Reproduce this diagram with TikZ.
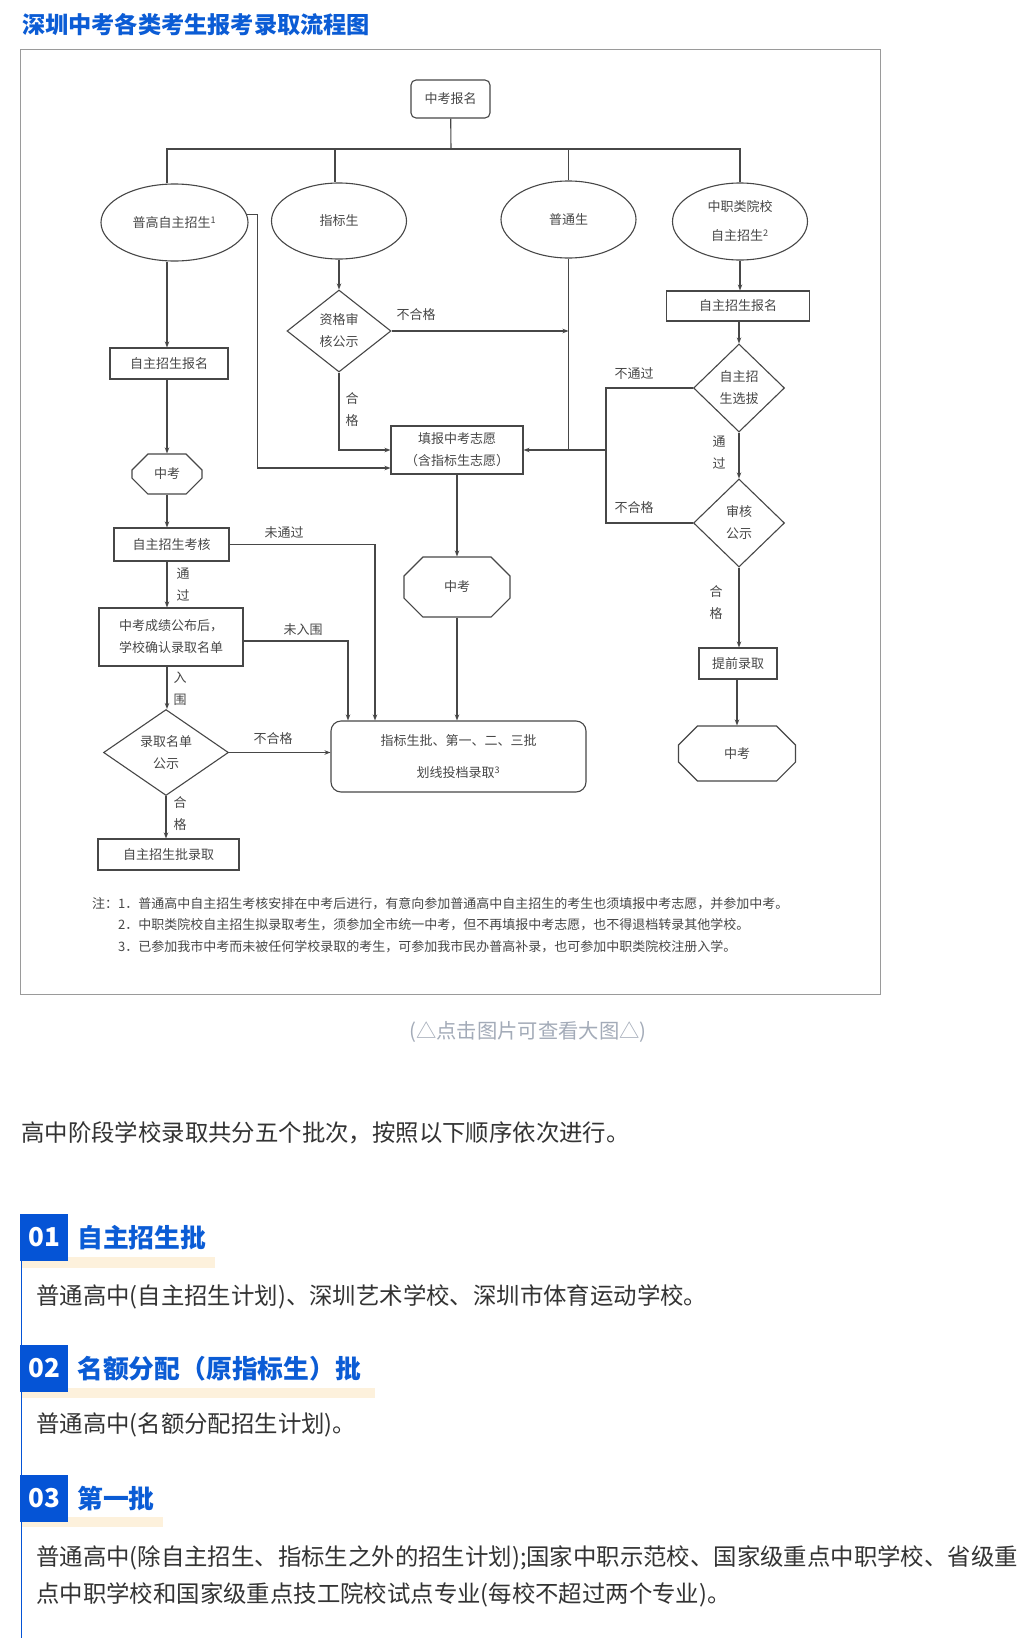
\documentclass[tikz,border=0pt]{standalone}
\usepackage{fontspec}
\setmainfont{Noto Sans CJK SC}
\usetikzlibrary{arrows.meta,positioning,shapes.geometric,shapes.misc}
\definecolor{titleblue}{HTML}{0B5CD5}
\definecolor{boxblue}{HTML}{0554D6}
\definecolor{cream}{HTML}{FDF1DC}
\definecolor{ink}{HTML}{474747}
\definecolor{bodytext}{HTML}{333333}
\definecolor{hint}{HTML}{A3ABB8}
\definecolor{framegray}{HTML}{9A9A9A}

\begin{document}
\begin{tikzpicture}[
  x=1pt, y=-1pt,
  every node/.style={font=\fontsize{13}{22}\selectfont, text=ink, inner sep=0pt, align=center},
  line/.style={draw=ink, line width=1.1pt},
  arr/.style={line, -{Stealth[length=6pt,width=4.5pt]}},
  box/.style={rectangle, draw=ink, line width=1.1pt},
  oval/.style={ellipse, draw=ink, line width=1.1pt},
  check/.style={diamond, draw=ink, line width=1.1pt},
  exam/.style={chamfered rectangle, draw=ink, line width=1.1pt},
  note/.style={anchor=west, font=\fontsize{13}{15}\selectfont},
  body/.style={anchor=west, text=bodytext, font=\fontsize{23.4}{26}\selectfont},
  num/.style={rectangle, fill=boxblue, minimum width=48pt, minimum height=47pt, text=white, font=\fontsize{26}{28}\selectfont\bfseries},
  head/.style={anchor=west, text=titleblue, font=\fontsize{25.8}{28}\selectfont\bfseries}
]
\fill[white] (0,0) rectangle (1035,1638);
\useasboundingbox (0,0) rectangle (1035,1638);

\node[anchor=west, text=titleblue, font=\fontsize{23.2}{26}\selectfont\bfseries] (title) at (22,25) {深圳中考各类考生报考录取流程图};
\draw[draw=framegray, line width=1pt] (20.5,49.5) rectangle (880,994);

\node[box, rounded corners=5pt, minimum width=79pt, minimum height=38pt] (signup) at (450.5,99) {中考报名};
\node[oval, minimum width=147pt, minimum height=77pt] (gaozhao) at (174.5,222.5) {普高自主招生\textsuperscript{1}};
\node[oval, minimum width=135pt, minimum height=76pt] (zhibiao) at (339,221) {指标生};
\node[oval, minimum width=135pt, minimum height=77pt] (putong) at (568.5,219.5) {普通生};
\node[oval, minimum width=135pt, minimum height=77pt] (zhongzhi) at (740,221.5) {中职类院校\\[7pt]自主招生\textsuperscript{2}};

\node[box, minimum width=143pt, minimum height=30pt] (zhaoregR) at (738,306) {自主招生报名};
\node[check, minimum width=91pt, minimum height=88pt] (xuanba) at (739,388) {自主招\\生选拔};
\node[check, minimum width=91pt, minimum height=88pt] (shenhe) at (739,523) {审核\\公示};
\node[box, minimum width=78pt, minimum height=31pt] (tiqian) at (738,663.5) {提前录取};
\node[exam, minimum width=117pt, minimum height=55pt, chamfered rectangle xsep=14pt, chamfered rectangle ysep=15pt] (zhongkaoR) at (737,753.5) {中考};

\node[check, minimum width=104pt, minimum height=82pt] (zige) at (339,331) {资格审\\核公示};
\node[box, minimum width=132pt, minimum height=48pt] (tianbao) at (457,450) {填报中考志愿\\（含指标生志愿）};
\node[exam, minimum width=106pt, minimum height=60pt, chamfered rectangle xsep=16pt, chamfered rectangle ysep=17pt] (zhongkaoM) at (457,587) {中考};
\node[box, rounded corners=10pt, minimum width=255pt, minimum height=71pt] (luqu) at (458.5,756.5) {指标生批、第一、二、三批\\[10pt]划线投档录取\textsuperscript{3}};

\node[box, minimum width=118pt, minimum height=31pt] (zhaoregL) at (169,363.5) {自主招生报名};
\node[exam, minimum width=70pt, minimum height=40pt, chamfered rectangle xsep=11pt, chamfered rectangle ysep=10pt] (zhongkaoL) at (167,474) {中考};
\node[box, minimum width=115pt, minimum height=33pt] (kaohe) at (171.5,544.5) {自主招生考核};
\node[box, minimum width=144pt, minimum height=58pt, align=left] (queren) at (171,637) {中考成绩公布后，\\学校确认录取名单};
\node[check, minimum width=125pt, minimum height=83pt] (gongshi) at (166,752.5) {录取名单\\公示};
\node[box, minimum width=141pt, minimum height=31pt] (zizhaopi) at (168.5,854.5) {自主招生批录取};

\coordinate (split) at (451,149);
\draw[line] (signup) -- (split);
\draw[line] ([xshift=-7.5pt]gaozhao.north) |- (split) -| (zhongzhi.north);
\draw[line] ([xshift=-4pt]zhibiao.north) -- ([xshift=-4pt]zhibiao.north |- split);
\draw[line] (putong.north) -- (putong.north |- split);

\draw[arr] ([xshift=-7.5pt]gaozhao.south) -- ([xshift=-7.5pt]gaozhao.south |- zhaoregL.north);
\draw[arr] (zhongkaoL.north |- zhaoregL.south) -- (zhongkaoL.north);
\draw[arr] (zhongkaoL.south) -- (zhongkaoL.south |- kaohe.north);
\draw[arr] (zhongkaoL.south |- kaohe.south) -- (zhongkaoL.south |- queren.north);
\draw[arr] (kaohe.east) -| ([xshift=-83.5pt]luqu.north);
\draw[arr] ([yshift=-4pt]queren.east) -| ([xshift=-110.5pt]luqu.north);
\draw[arr] (zhongkaoL.south |- queren.south) -- (zhongkaoL.south |- gongshi.north);
\draw[arr] (gongshi.east) -- (gongshi.east -| luqu.west);
\draw[arr] (gongshi.south) -- (gongshi.south |- zizhaopi.north);

\draw[arr] (gaozhao.6) -- ++(10,0) |- ([yshift=-18pt]tianbao.west);
\draw[arr] (zhibiao.south) -- (zige.north);
\draw[arr] (zige.east) -- (zige.east -| putong.south);
\draw[arr] (zige.south) |- (tianbao.west);
\draw[line] (putong.south) -- (putong.south |- tianbao.east);
\draw[line] (xuanba.west) -- ++(-87,0) coordinate (back) |- (shenhe.west);
\draw[arr] (back |- tianbao.east) -- (tianbao.east);
\draw[arr] (tianbao.south) -- (zhongkaoM.north);
\draw[arr] (zhongkaoM.south) -- (zhongkaoM.south |- luqu.north);

\draw[arr] (zhongzhi.south) -- (zhongzhi.south |- zhaoregR.north);
\draw[arr] (xuanba.north |- zhaoregR.south) -- (xuanba.north);
\draw[arr] (xuanba.south) -- (shenhe.north);
\draw[arr] (shenhe.south) -- (shenhe.south |- tiqian.north);
\draw[arr] (zhongkaoR.north |- tiqian.south) -- (zhongkaoR.north);

\node (buhegeA) at (416,315) {不合格};
\node (hegeA) at (352,410) {合\\格};
\node (butongguo) at (634,374) {不通过};
\node (buhegeB) at (634,508) {不合格};
\node (tongguoR) at (719,452.5) {通\\过};
\node (hegeR) at (716,602.5) {合\\格};
\node (weitongguo) at (284,533) {未通过};
\node (tongguoL) at (183,585) {通\\过};
\node (weiruwei) at (303,630) {未入围};
\node (ruwei) at (180,689) {入\\围};
\node (buhegeC) at (273,739) {不合格};
\node (hegeL) at (180,813.5) {合\\格};

\node[note] (note1) at (92,904) {注：1．普通高中自主招生考核安排在中考后进行，有意向参加普通高中自主招生的考生也须填报中考志愿，并参加中考。};
\node[note] (note2) at (118,925) {2．中职类院校自主招生拟录取考生，须参加全市统一中考，但不再填报中考志愿，也不得退档转录其他学校。};
\node[note] (note3) at (118,947) {3．已参加我市中考而未被任何学校录取的考生，可参加我市民办普高补录，也可参加中职类院校注册入学。};

\node[text=hint, font=\fontsize{20.3}{22}\selectfont] (hint) at (528,1032) {(△点击图片可查看大图△)};
\node[body] (intro) at (21,1133) {高中阶段学校录取共分五个批次，按照以下顺序依次进行。};

\draw[draw=boxblue, line width=1pt] (21,1260) -- (21,1638);
\fill[cream] (22,1257) rectangle (215,1268);
\node[num] (numA) at (44,1237.5) {01};
\node[head] (headA) at (77,1238) {自主招生批};
\node[body] (bodyA) at (36,1297) {普通高中(自主招生计划)、深圳艺术学校、深圳市体育运动学校。};

\fill[cream] (22,1388) rectangle (375,1398);
\node[num] (numB) at (44,1368) {02};
\node[head] (headB) at (77,1369) {名额分配（原指标生）批};
\node[body] (bodyB) at (36,1425) {普通高中(名额分配招生计划)。};

\fill[cream] (22,1517) rectangle (163,1527);
\node[num] (numC) at (44,1498) {03};
\node[head] (headC) at (77,1499) {第一批};
\node[body] (bodyC) at (36,1558) {普通高中(除自主招生、指标生之外的招生计划);国家中职示范校、国家级重点中职学校、省级重};
\node[body] (bodyD) at (36,1595) {点中职学校和国家级重点技工院校试点专业(每校不超过两个专业)。};
\end{tikzpicture}
\end{document}
